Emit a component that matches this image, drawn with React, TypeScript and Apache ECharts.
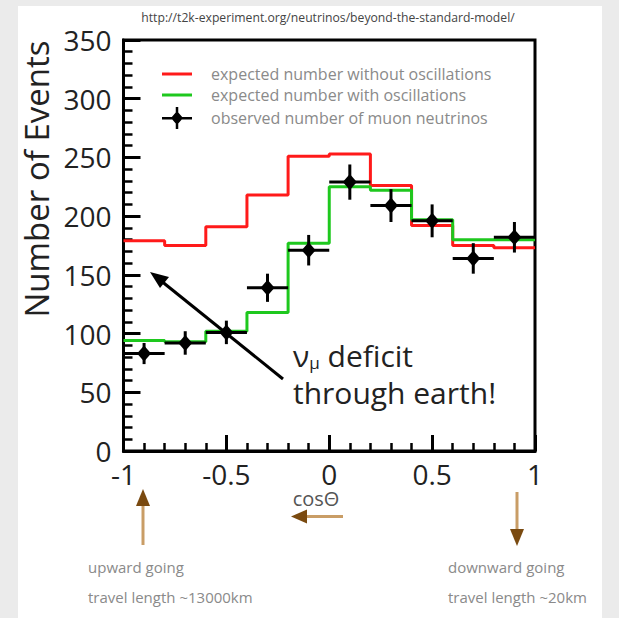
import React, { useEffect, useRef } from "react";
import * as echarts from "echarts";

// ---- data ----
const binLeftEdges = [-1, -0.8, -0.6, -0.4, -0.2, 0, 0.2, 0.4, 0.6, 0.8];
const lastEdge = 1;
const noOscillation = [179, 175, 191, 218, 251, 253, 226, 192, 175, 173];
const withOscillation = [94, 93, 102, 118, 177, 225, 222, 197, 180, 180];
const obsCenters = [-0.9, -0.7, -0.5, -0.3, -0.1, 0.1, 0.3, 0.5, 0.7, 0.9];
const obsValues = [83, 92, 101, 139, 171, 229, 209, 196, 164, 182];
const obsErrors = [9, 10, 10, 12, 13, 15, 14, 14, 13, 13];
const obsHalfWidths = [0.1, 0.1, 0.1, 0.1, 0.1, 0.1, 0.1, 0.1, 0.1, 0.1];

const NAME_RED = "expected number without oscillations";
const NAME_GREEN = "expected number with oscillations";
const NAME_OBS = "observed number of muon neutrinos";

const stepData = (vals: number[]) => {
  const d: number[][] = binLeftEdges.map((e, i) => [e, vals[i]]);
  d.push([lastEdge, vals[vals.length - 1]]);
  return d;
};

const FONT = "'Open Sans', 'DejaVu Sans', sans-serif";
const BROWN_HEAD = "#7a4a10";
const BROWN_SHAFT = "#c99d66";
const LINE_ICON = "path://M0,0h30v3h-30z";
const OBS_ICON = "path://M0,10h30v2.5h-30z M13.75,0h2.5v22h-2.5z M15,4L21,11L15,18L9,11z";

export default function App() {
  const ref = useRef<HTMLDivElement>(null);

  useEffect(() => {
    if (!ref.current) return;
    const chart = echarts.init(ref.current, undefined, { renderer: "svg" });

    const obsData = obsCenters.map((x, i) => [x, obsValues[i], obsErrors[i], obsHalfWidths[i]]);

    chart.setOption({
      animation: false,
      textStyle: { fontFamily: FONT },
      grid: {
        left: 123.5,
        top: 40,
        right: 84,
        bottom: 167,
        show: true,
        borderColor: "#000",
        borderWidth: 3,
        backgroundColor: "transparent",
      },
      legend: {
        orient: "vertical",
        left: 157,
        top: 60,
        itemWidth: 30,
        itemHeight: 22,
        itemGap: 3,
        symbolKeepAspect: true,
        textStyle: {
          color: "#8a8a8a",
          fontSize: 16,
          lineHeight: 18,
          fontFamily: FONT,
          padding: [0, 0, 0, 14],
        },
        data: [
          { name: NAME_RED, icon: LINE_ICON },
          { name: NAME_GREEN, icon: LINE_ICON },
          { name: NAME_OBS, icon: OBS_ICON },
        ],
      },
      xAxis: {
        type: "value",
        min: -1,
        max: 1,
        interval: 0.5,
        axisLine: { show: true, onZero: false, lineStyle: { color: "#000", width: 3 } },
        axisTick: { show: true, inside: true, length: 16, lineStyle: { color: "#000", width: 3 } },
        minorTick: { show: true, splitNumber: 5, length: 8, lineStyle: { color: "#000", width: 2.5 } },
        splitLine: { show: false },
        axisLabel: { color: "#222", fontSize: 28, lineHeight: 22, margin: 12, fontFamily: FONT },
      },
      yAxis: {
        type: "value",
        min: 0,
        max: 350,
        interval: 50,
        axisLine: { show: true, onZero: false, lineStyle: { color: "#000", width: 3 } },
        axisTick: { show: true, inside: true, length: 17, lineStyle: { color: "#000", width: 3 } },
        minorTick: { show: true, splitNumber: 5, length: 9, lineStyle: { color: "#000", width: 2.5 } },
        splitLine: { show: false },
        axisLabel: { color: "#222", fontSize: 28, margin: 12, fontFamily: FONT },
      },
      series: [
        {
          name: NAME_RED,
          type: "line",
          step: "end",
          data: stepData(noOscillation),
          symbol: "none",
          showSymbol: false,
          lineStyle: { color: "#ff1a1a", width: 3 },
          itemStyle: { color: "#ff1a1a" },
          z: 3,
        },
        {
          name: NAME_GREEN,
          type: "line",
          step: "end",
          data: stepData(withOscillation),
          symbol: "none",
          showSymbol: false,
          lineStyle: { color: "#1ec81e", width: 3 },
          itemStyle: { color: "#1ec81e" },
          z: 4,
        },
        {
          name: NAME_OBS,
          type: "custom",
          itemStyle: { color: "#000" },
          z: 5,
          data: obsData,
          renderItem: (params: any, api: any) => {
            const x = api.value(0);
            const y = api.value(1);
            const e = api.value(2);
            const hw = api.value(3);
            const l = api.coord([x - hw, y]);
            const r = api.coord([x + hw, y]);
            const t = api.coord([x, y + e]);
            const b = api.coord([x, y - e]);
            const c = api.coord([x, y]);
            return {
              type: "group",
              children: [
                {
                  type: "line",
                  shape: { x1: l[0], y1: l[1], x2: r[0], y2: r[1] },
                  style: { stroke: "#000", lineWidth: 3 },
                },
                {
                  type: "line",
                  shape: { x1: t[0], y1: t[1], x2: b[0], y2: b[1] },
                  style: { stroke: "#000", lineWidth: 3 },
                },
                {
                  type: "polygon",
                  shape: {
                    points: [
                      [c[0], c[1] - 8],
                      [c[0] + 7, c[1]],
                      [c[0], c[1] + 8],
                      [c[0] - 7, c[1]],
                    ],
                  },
                  style: { fill: "#000" },
                },
              ],
            };
          },
        },
      ],
      graphic: [
        {
          type: "text",
          x: 328,
          y: 17,
          style: {
            text: "http://t2k-experiment.org/neutrinos/beyond-the-standard-model/",
            fill: "#444",
            fontSize: 12.2,
            fontFamily: FONT,
            align: "center",
            verticalAlign: "middle",
          },
        },
        {
          type: "text",
          x: 36,
          y: 179,
          rotation: Math.PI / 2,
          style: {
            text: "Number of Events",
            fill: "#222",
            fontSize: 33,
            fontFamily: FONT,
            align: "center",
            verticalAlign: "middle",
          },
        },
        // deficit arrow
        {
          type: "line",
          shape: { x1: 283, y1: 379, x2: 160, y2: 280 },
          style: { stroke: "#000", lineWidth: 3 },
          z: 10,
        },
        {
          type: "polygon",
          shape: { points: [[150, 272], [169, 277], [160, 288]] },
          style: { fill: "#000" },
          z: 10,
        },
        {
          type: "text",
          x: 293,
          y: 355,
          z: 10,
          style: {
            text: "{a|ν}{b|μ}{a| deficit}",
            verticalAlign: "middle",
            rich: {
              a: { fontSize: 30, fill: "#222", fontFamily: FONT },
              b: { fontSize: 17, fill: "#222", fontFamily: FONT, padding: [14, 0, 0, 0] },
            },
          },
        },
        {
          type: "text",
          x: 293,
          y: 392,
          z: 10,
          style: {
            text: "through earth!",
            fill: "#222",
            fontSize: 30,
            fontFamily: FONT,
            verticalAlign: "middle",
          },
        },
        // cos theta label
        {
          type: "text",
          x: 316,
          y: 498,
          style: {
            text: "cosΘ",
            fill: "#555",
            fontSize: 20,
            lineHeight: 18,
            fontFamily: FONT,
            align: "center",
            verticalAlign: "middle",
          },
        },
        // up arrow
        {
          type: "line",
          shape: { x1: 143, y1: 545, x2: 143, y2: 503 },
          style: { stroke: BROWN_SHAFT, lineWidth: 3 },
        },
        {
          type: "polygon",
          shape: { points: [[143, 489], [150, 506], [136, 506]] },
          style: { fill: BROWN_HEAD },
        },
        // left arrow
        {
          type: "line",
          shape: { x1: 343, y1: 516.5, x2: 304, y2: 516.5 },
          style: { stroke: BROWN_SHAFT, lineWidth: 3 },
        },
        {
          type: "polygon",
          shape: { points: [[291, 516.5], [307, 509.5], [307, 523.5]] },
          style: { fill: BROWN_HEAD },
        },
        // down arrow
        {
          type: "line",
          shape: { x1: 517, y1: 492, x2: 517, y2: 531 },
          style: { stroke: BROWN_SHAFT, lineWidth: 3 },
        },
        {
          type: "polygon",
          shape: { points: [[517, 546], [510, 529], [524, 529]] },
          style: { fill: BROWN_HEAD },
        },
        {
          type: "text",
          x: 88,
          y: 567,
          style: { text: "upward going", fill: "#8a8a8a", fontSize: 15, fontFamily: FONT, verticalAlign: "middle" },
        },
        {
          type: "text",
          x: 88,
          y: 597,
          style: { text: "travel length ~13000km", fill: "#8a8a8a", fontSize: 15, fontFamily: FONT, verticalAlign: "middle" },
        },
        {
          type: "text",
          x: 448,
          y: 567,
          style: { text: "downward going", fill: "#8a8a8a", fontSize: 15, fontFamily: FONT, verticalAlign: "middle" },
        },
        {
          type: "text",
          x: 448,
          y: 597,
          style: { text: "travel length ~20km", fill: "#8a8a8a", fontSize: 15, fontFamily: FONT, verticalAlign: "middle" },
        },
      ],
    });

    return () => chart.dispose();
  }, []);

  return (
    <div style={{ position: "fixed", left: 0, top: 0, width: 619, height: 618, background: "#ebebeb", overflow: "hidden" }}>
      <div style={{ position: "absolute", left: 18, top: 6, width: 584, height: 612, background: "#ffffff" }} />
      <div ref={ref} style={{ position: "absolute", left: 0, top: 0, width: 619, height: 618 }} />
    </div>
  );
}
